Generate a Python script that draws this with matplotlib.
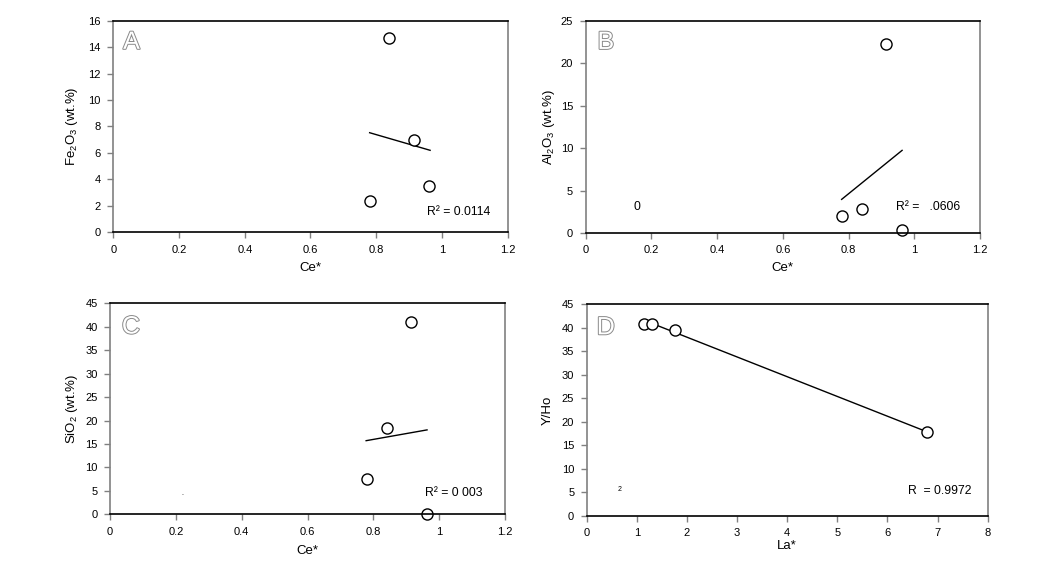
import matplotlib
matplotlib.use("Agg")
import matplotlib.pyplot as plt
import matplotlib.patheffects as pe

plt.rcParams["font.family"] = ["Liberation Sans", "DejaVu Sans"]
plt.rcParams["mathtext.fontset"] = "custom"
plt.rcParams["mathtext.rm"] = "Liberation Sans"
plt.rcParams["mathtext.it"] = "Liberation Sans"
plt.rcParams["mathtext.default"] = "rm"

# Ce* values shared by panels A-C
ce_a = [0.78, 0.84, 0.915, 0.962]
fe2o3 = [2.39, 14.7, 7.0, 3.5]
fe_fit_x = [0.78, 0.964]
fe_fit_y = [7.53, 6.2]

ce_b = [0.779, 0.841, 0.915, 0.963]
al2o3 = [2.04, 2.83, 22.25, 0.39]
al_fit_x = [0.779, 0.963]
al_fit_y = [3.96, 9.73]

ce_c = [0.781, 0.841, 0.913, 0.963]
sio2 = [7.6, 18.3, 41.0, 0.0]
si_fit_x = [0.778, 0.963]
si_fit_y = [15.7, 18.0]

la_d = [1.15, 1.31, 1.76, 6.78]
y_ho = [40.75, 40.75, 39.55, 17.9]
yho_fit_x = [1.2, 6.78]
yho_fit_y = [41.3, 17.9]

fig = plt.figure(figsize=(10.5, 5.78), dpi=100)

axA = fig.add_axes([0.1079, 0.5981, 0.3756, 0.3661])
axB = fig.add_axes([0.5578, 0.5969, 0.3755, 0.3673])
axC = fig.add_axes([0.1048, 0.1102, 0.3762, 0.3651])
axD = fig.add_axes([0.5588, 0.1073, 0.3819, 0.3668])


def style(ax, xlim, xticks, ylim, yticks, xlabel, ylabel, letter, lx, ly,
          xpad=5, ypad=6):
    ax.set_xlim(*xlim)
    ax.set_ylim(*ylim)
    ax.set_xticks(xticks)
    ax.set_yticks(yticks)
    ax.set_xticklabels([("%g" % t) for t in xticks])
    ax.set_yticklabels([("%g" % t) for t in yticks])
    ax.tick_params(direction="out", length=4, width=1, color="#808080",
                   labelsize=8, pad=5)
    ax.spines["top"].set_color("black")
    ax.spines["bottom"].set_color("black")
    ax.spines["left"].set_color("#808080")
    ax.spines["right"].set_color("#808080")
    for s in ax.spines.values():
        s.set_linewidth(1.2)
    ax.set_xlabel(xlabel, fontsize=9.5, labelpad=xpad)
    ax.set_ylabel(ylabel, fontsize=9.5, labelpad=ypad)
    t = ax.text(lx, ly, letter, transform=ax.transAxes, fontsize=18,
                color="white", ha="left", va="center")
    t.set_path_effects([pe.withStroke(linewidth=1.4, foreground="#8a8a8a")])


def scatter(ax, x, y, fx, fy):
    ax.plot(fx, fy, color="black", lw=1)
    ax.plot(x, y, "o", ms=8, mfc="white", mec="black", mew=1, clip_on=False)


scatter(axA, ce_a, fe2o3, fe_fit_x, fe_fit_y)
style(axA, (0, 1.2), [0, 0.2, 0.4, 0.6, 0.8, 1, 1.2], (0, 16),
      [0, 2, 4, 6, 8, 10, 12, 14, 16], "Ce*", "Fe$_2$O$_3$ (wt.%)", "A", 0.025, 0.9)
axA.text(0.954, 1.55, "R² = 0.0114", fontsize=8.8, va="center")

scatter(axB, ce_b, al2o3, al_fit_x, al_fit_y)
style(axB, (0, 1.2), [0, 0.2, 0.4, 0.6, 0.8, 1, 1.2], (0, 25),
      [0, 5, 10, 15, 20, 25], "Ce*", "Al$_2$O$_3$ (wt.%)", "B", 0.03, 0.9,
      ypad=3)
axB.text(0.144, 3.1, "0", fontsize=8.8, va="center")
axB.text(0.945, 3.1, "R² =   .0606", fontsize=8.8, va="center")

scatter(axC, ce_c, sio2, si_fit_x, si_fit_y)
style(axC, (0, 1.2), [0, 0.2, 0.4, 0.6, 0.8, 1, 1.2], (0, 45),
      [0, 5, 10, 15, 20, 25, 30, 35, 40, 45], "Ce*", "SiO$_2$ (wt.%)", "C", 0.03, 0.89,
      xpad=6, ypad=4)
axC.text(0.216, 4.2, ".", fontsize=5)
axC.text(0.957, 4.55, "R² = 0 003", fontsize=8.8, va="center")

scatter(axD, la_d, y_ho, yho_fit_x, yho_fit_y)
style(axD, (0, 8), [0, 1, 2, 3, 4, 5, 6, 7, 8], (0, 45),
      [0, 5, 10, 15, 20, 25, 30, 35, 40, 45], "La*", "Y/Ho", "D", 0.025, 0.89,
      xpad=1)
axD.text(0.62, 5.7, "2", fontsize=5, va="center")
axD.text(6.4, 5.2, "R  = 0.9972", fontsize=8.8, va="center")

fig.savefig("out.png", dpi=100)
